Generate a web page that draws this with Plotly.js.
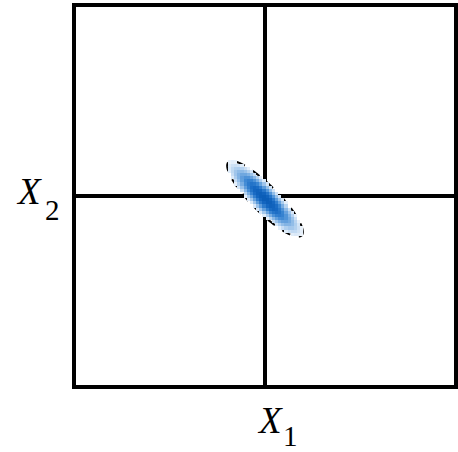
<!DOCTYPE html>
<html>
<head>
<meta charset="utf-8">
<script src="https://cdn.plot.ly/plotly-3.0.1.min.js"></script>
<style>html,body{margin:0;padding:0;background:#fff;}#chart{width:458px;height:452px;}</style>
</head>
<body>
<div id="chart"></div>
<script>
// ---- data ----
const mean = [0, -0.015];          // centre of the distribution (X1, X2)
const sd = [0.11, 0.11];           // standard deviations of X1, X2
const rho = [-0.876];              // correlation between X1 and X2
const contourLevel = [1.8];        // Mahalanobis radius of the dashed outline
const fillLevel = [1.8];           // Mahalanobis radius where the shading stops
const axisRange = [-1, 1];
const gridExtent = [-0.4, 0.4];
const gridStep = [0.0165];
const xLabel = ['X', '1'];
const yLabel = ['X', '2'];

// ---- density grid ----
const r = rho[0], k = contourLevel[0], kf = fillLevel[0];
const gx = [], gy = [];
for (let v = gridExtent[0]; v <= gridExtent[1] + 1e-9; v += gridStep[0]) { gx.push(v); gy.push(v); }
const z = gy.map(yv => gx.map(xv => {
  const u = (xv - mean[0]) / sd[0], w = (yv - mean[1]) / sd[1];
  const d2 = (u * u - 2 * r * u * w + w * w) / (1 - r * r);
  return d2 <= kf * kf ? Math.exp(-d2 / 2) : null;
}));

// ---- outline (drawn under the shading, in data coordinates) ----
let path = '';
for (let i = 0; i <= 200; i++) {
  const t = 2 * Math.PI * i / 200;
  const ox = mean[0] + k * sd[0] * Math.cos(t);
  const oy = mean[1] + k * sd[1] * (r * Math.cos(t) + Math.sqrt(1 - r * r) * Math.sin(t));
  path += (i === 0 ? 'M' : 'L') + ox.toFixed(5) + ',' + oy.toFixed(5);
}
path += 'Z';

const traces = [
  {
    type: 'heatmap', x: gx, y: gy, z: z, zmin: 0, zmax: 1, zsmooth: false,
    showscale: false, hoverinfo: 'skip',
    colorscale: [[0, '#ffffff'], [0.2, '#eaf2fb'], [0.4, '#97c0e9'], [0.65, '#3c87d3'], [0.85, '#1668c2'], [1, '#0a5cb6']]
  }
];

const fX = { family: 'Liberation Serif, DejaVu Serif, serif', size: 37, color: '#000' };
const fS = { family: 'Liberation Serif, DejaVu Serif, serif', size: 29, color: '#000' };
const px = p => (p - 74) / 382, py = p => (387 - p) / 382;

const layout = {
  width: 458, height: 452,
  margin: { l: 74, r: 2, t: 5, b: 65, pad: 0 },
  paper_bgcolor: '#fff', plot_bgcolor: '#fff',
  showlegend: false,
  xaxis: { range: axisRange, showgrid: false, showticklabels: false, ticks: '', showline: false,
           zeroline: true, zerolinecolor: '#000', zerolinewidth: 4, fixedrange: true },
  yaxis: { range: axisRange, showgrid: false, showticklabels: false, ticks: '', showline: false,
           zeroline: true, zerolinecolor: '#000', zerolinewidth: 4, fixedrange: true },
  shapes: [
    { type: 'path', xref: 'x', yref: 'y', path: path, layer: 'below',
      line: { color: '#000', width: 2, dash: 'dash' } },
    { type: 'rect', xref: 'paper', yref: 'paper', x0: 0, x1: 1, y0: 0, y1: 1,
      line: { color: '#000', width: 4 }, layer: 'above' }
  ],
  annotations: [
    { text: '<i>' + xLabel[0] + '</i>', xref: 'paper', yref: 'paper', x: px(269.5), y: py(420), xanchor: 'center', yanchor: 'middle', showarrow: false, font: fX },
    { text: xLabel[1], xref: 'paper', yref: 'paper', x: px(290.5), y: py(436), xanchor: 'center', yanchor: 'middle', showarrow: false, font: fS },
    { text: '<i>' + yLabel[0] + '</i>', xref: 'paper', yref: 'paper', x: px(28.5), y: py(191), xanchor: 'center', yanchor: 'middle', showarrow: false, font: fX },
    { text: yLabel[1], xref: 'paper', yref: 'paper', x: px(52), y: py(210), xanchor: 'center', yanchor: 'middle', showarrow: false, font: fS }
  ]
};

Plotly.newPlot('chart', traces, layout, { staticPlot: true, displayModeBar: false });
</script>
</body>
</html>
